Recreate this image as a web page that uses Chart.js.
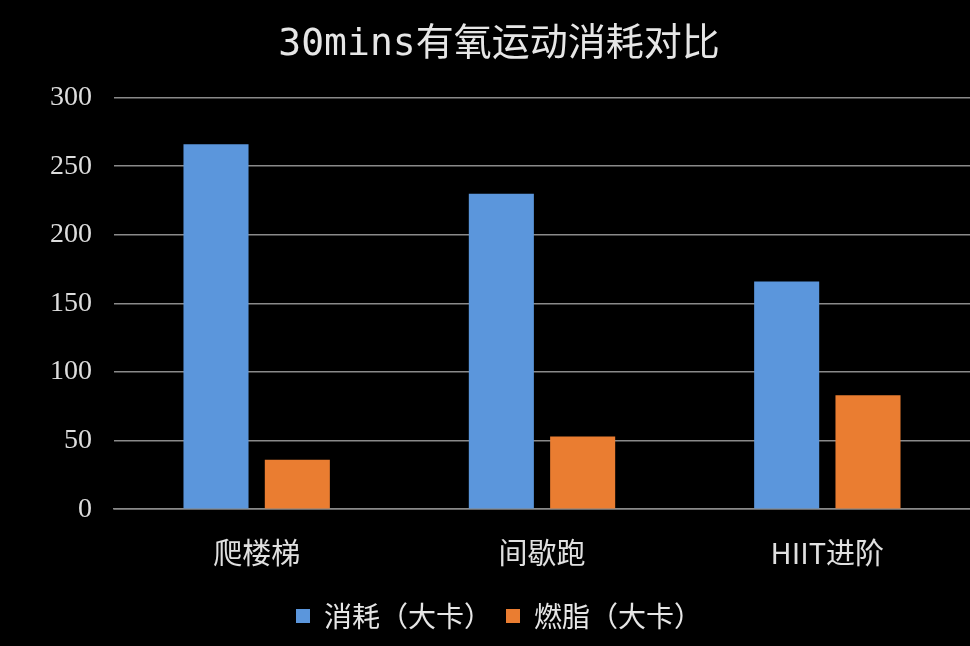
<!DOCTYPE html>
<html>
<head>
<meta charset="utf-8">
<script src="https://cdn.jsdelivr.net/npm/chart.js@4"></script>
<style>
  html, body { margin: 0; padding: 0; background: #000; }
  #wrap { width: 970px; height: 646px; }
</style>
</head>
<body>
<div id="wrap"><canvas id="chart"></canvas></div>
<script>
// data
const categories = ["爬楼梯", "间歇跑", "HIIT进阶"];
const consumeValues = [266, 230, 166];
const fatValues = [36, 53, 83];
const seriesNames = ["消耗（大卡）", "燃脂（大卡）"];

const ctx = document.getElementById("chart").getContext("2d");
new Chart(ctx, {
  type: "bar",
  data: {
    labels: categories,
    datasets: [
      {
        label: seriesNames[0],
        data: consumeValues,
        backgroundColor: "#5b96dc",
        barPercentage: 0.8,
        categoryPercentage: 0.57,
      },
      {
        label: seriesNames[1],
        data: fatValues,
        backgroundColor: "#ea7d31",
        barPercentage: 0.8,
        categoryPercentage: 0.57,
      },
    ],
  },
  options: {
    responsive: true,
    maintainAspectRatio: false,
    animation: false,
    layout: { padding: { left: 28, right: 0, top: 0, bottom: 6 } },
    plugins: {
      title: {
        display: true,
        text: "30mins有氧运动消耗对比",
        color: "#e6e6e6",
        font: { size: 38, family: "'DejaVu Sans Mono', 'Noto Sans CJK SC'", weight: "normal" },
        padding: { top: 22, bottom: 30 },
      },
      legend: {
        position: "bottom",
        labels: {
          color: "#e6e6e6",
          font: { size: 28, family: "'Noto Sans CJK SC'" },
          boxWidth: 14,
          boxHeight: 14,
          padding: 14,
        },
      },
      tooltip: { enabled: false },
    },
    scales: {
      y: {
        min: 0,
        max: 300,
        ticks: {
          stepSize: 50,
          color: "#dddddd",
          font: { size: 28, family: "'Liberation Serif', 'DejaVu Serif'" },
          padding: 22,
        },
        grid: { color: "#8a8a8a", lineWidth: 1.5, drawTicks: false },
        border: { display: false },
      },
      x: {
        ticks: {
          color: "#e0e0e0",
          font: { size: 29, family: "'Noto Sans CJK SC'" },
          padding: 18,
        },
        grid: { display: false },
        border: { color: "#8a8a8a", width: 1.5 },
      },
    },
  },
});
</script>
</body>
</html>
